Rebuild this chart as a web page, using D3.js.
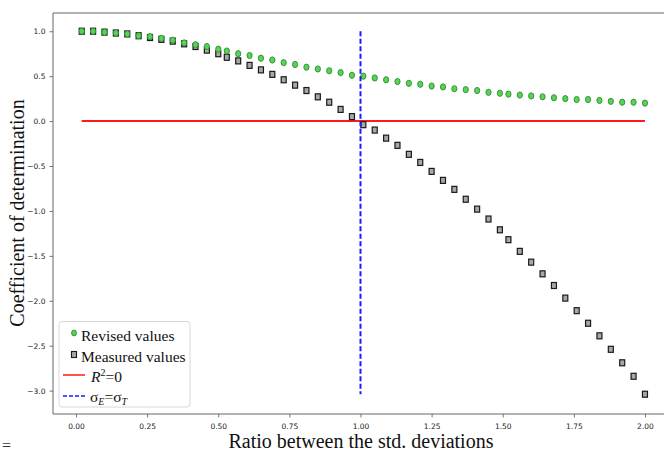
<!DOCTYPE html>
<html>
<head>
<meta charset="utf-8">
<script src="https://cdn.jsdelivr.net/npm/d3@7"></script>
<style>
  body { margin: 0; background: #fff; }
  .tick text { font-family: "DejaVu Sans", sans-serif; font-size: 7.5px; fill: #222; }
  .serif { font-family: "Liberation Serif", "Times New Roman", serif; }
</style>
</head>
<body>
<div id="chart"></div>
<script>
// ratio between the std. deviations
var ratios = [0.02,0.06,0.10,0.14,0.18,0.22,0.26,0.30,0.34,0.38,0.42,0.46,0.50,0.53,0.57,0.61,0.65,0.69,0.73,0.77,
  0.81,0.85,0.89,0.93,0.97,1.01,1.05,1.09,1.13,1.17,1.21,1.25,1.29,1.33,1.37,1.41,1.45,1.49,1.52,1.56,
  1.60,1.64,1.68,1.72,1.76,1.80,1.84,1.88,1.92,1.96,2.00];
var revised = [1.00,1.00,0.99,0.98,0.97,0.95,0.94,0.92,0.90,0.87,0.85,0.83,0.80,0.78,0.75,0.73,0.70,0.68,0.65,0.63,
  0.60,0.58,0.56,0.54,0.51,0.50,0.48,0.46,0.44,0.42,0.41,0.39,0.38,0.36,0.35,0.34,0.32,0.31,0.30,0.29,
  0.28,0.27,0.26,0.25,0.24,0.24,0.23,0.22,0.21,0.21,0.20];
var measured = [1.00,1.00,0.99,0.98,0.97,0.95,0.93,0.91,0.89,0.86,0.83,0.79,0.75,0.71,0.67,0.62,0.57,0.52,0.46,0.40,
  0.34,0.27,0.21,0.13,0.05,-0.04,-0.10,-0.19,-0.27,-0.37,-0.46,-0.56,-0.66,-0.76,-0.87,-0.98,-1.09,-1.21,-1.32,-1.45,
  -1.57,-1.70,-1.83,-1.97,-2.11,-2.25,-2.39,-2.54,-2.69,-2.84,-3.04];
var xTicks = [0, 0.25, 0.5, 0.75, 1.0, 1.25, 1.5, 1.75, 2.0];
var yTicks = [1.0, 0.5, 0.0, -0.5, -1.0, -1.5, -2.0, -2.5, -3.0];

var width = 664, height = 455;
var plotL = 53, plotT = 13, plotR = 668, plotB = 414;

var svg = d3.select("#chart").append("svg")
  .attr("width", width).attr("height", height);

var x = d3.scaleLinear().domain([-0.081, 2.081]).range([plotL, plotR]);
var y = d3.scaleLinear().domain([1.203, -3.26]).range([plotT, plotB]);

// axes
svg.append("g")
  .attr("transform", "translate(0," + plotB + ")")
  .call(d3.axisBottom(x).tickValues(xTicks).tickFormat(d3.format(".2f")).tickSize(3.5).tickPadding(6))
  .call(function (g) { g.select(".domain").remove(); });
svg.append("g")
  .attr("transform", "translate(" + plotL + ",0)")
  .call(d3.axisLeft(y).tickValues(yTicks).tickFormat(function (d) { return d3.format(".1f")(d).replace("-", "\u2212"); })
    .tickSize(3.5).tickPadding(4))
  .call(function (g) { g.select(".domain").remove(); });
svg.selectAll(".tick line").attr("stroke", "#555").attr("stroke-width", 0.8);

// frame
svg.append("path")
  .attr("d", "M" + plotL + "," + plotB + "V" + plotT + "H" + (plotR + 2) + "M" + plotL + "," + plotB + "H" + (plotR + 2))
  .attr("fill", "none").attr("stroke", "#555").attr("stroke-width", 0.9);

// reference lines
svg.append("line")
  .attr("x1", x(ratios[0])).attr("x2", x(ratios[ratios.length - 1]))
  .attr("y1", y(0)).attr("y2", y(0))
  .attr("stroke", "#ff1a1a").attr("stroke-width", 2);

var g = svg.append("g");
g.selectAll("rect.meas").data(ratios).enter().append("rect")
  .attr("class", "meas")
  .attr("x", function (d) { return x(d) - 2.5; })
  .attr("y", function (d, i) { return y(measured[i]) - 3; })
  .attr("width", 5).attr("height", 6)
  .attr("fill", "#a8a8a8").attr("stroke", "#1a1a1a").attr("stroke-width", 1.2);

g.selectAll("ellipse").data(ratios).enter().append("ellipse")
  .attr("cx", function (d) { return x(d); })
  .attr("cy", function (d, i) { return y(revised[i]); })
  .attr("rx", 2.6).attr("ry", 3.1)
  .attr("fill", "#5ccf5c").attr("stroke", "#2f9a2f").attr("stroke-width", 1);

svg.append("line")
  .attr("x1", x(1)).attr("x2", x(1))
  .attr("y1", y(d3.max(measured))).attr("y2", y(d3.min(measured)))
  .attr("stroke", "#1a1aff").attr("stroke-width", 2).attr("stroke-dasharray", "5,2.5");

// legend
var lg = svg.append("g").attr("class", "serif");
lg.append("rect").attr("x", 59).attr("y", 321.5).attr("width", 131).attr("height", 85.5)
  .attr("rx", 3).attr("fill", "#fff").attr("fill-opacity", 0.85)
  .attr("stroke", "#d8d8d8").attr("stroke-width", 1);
lg.append("ellipse").attr("cx", 74).attr("cy", 333).attr("rx", 2.4).attr("ry", 2.9)
  .attr("fill", "#5ccf5c").attr("stroke", "#2f9a2f");
lg.append("rect").attr("x", 71.5).attr("y", 351.5).attr("width", 5).attr("height", 6)
  .attr("fill", "#a8a8a8").attr("stroke", "#1a1a1a").attr("stroke-width", 1.1);
lg.append("line").attr("x1", 63).attr("x2", 85).attr("y1", 375).attr("y2", 375)
  .attr("stroke", "#ff1a1a").attr("stroke-width", 1.5);
lg.append("line").attr("x1", 63).attr("x2", 85).attr("y1", 396).attr("y2", 396)
  .attr("stroke", "#1a1aff").attr("stroke-width", 1.5).attr("stroke-dasharray", "4,2");

var lt = lg.append("g").attr("font-size", 15.5).attr("fill", "#111");
lt.append("text").attr("x", 81).attr("y", 341).text("Revised values");
lt.append("text").attr("x", 81).attr("y", 362).text("Measured values");
var r2 = lt.append("text").attr("x", 91).attr("y", 382);
r2.append("tspan").attr("font-style", "italic").text("R");
r2.append("tspan").attr("font-size", 10).attr("dy", -6).text("2");
r2.append("tspan").attr("dy", 6).text("=0");
var sg = lt.append("text").attr("x", 90).attr("y", 402);
sg.append("tspan").text("\u03c3");
sg.append("tspan").attr("font-size", 10).attr("font-style", "italic").attr("dy", 3).text("E");
sg.append("tspan").attr("dy", -3).text("=\u03c3");
sg.append("tspan").attr("font-size", 10).attr("font-style", "italic").attr("dy", 3).text("T");

// axis titles
svg.append("text").attr("class", "serif")
  .attr("x", 361).attr("y", 448).attr("text-anchor", "middle")
  .attr("font-size", 20).attr("fill", "#111")
  .text("Ratio between the std. deviations");
svg.append("text").attr("class", "serif")
  .attr("transform", "translate(24," + 213 + ") rotate(-90)")
  .attr("text-anchor", "middle").attr("font-size", 20).attr("fill", "#111")
  .text("Coefficient of determination");
svg.append("text").attr("class", "serif")
  .attr("x", 2).attr("y", 451).attr("font-size", 16).attr("fill", "#333").text("=");
</script>
</body>
</html>
